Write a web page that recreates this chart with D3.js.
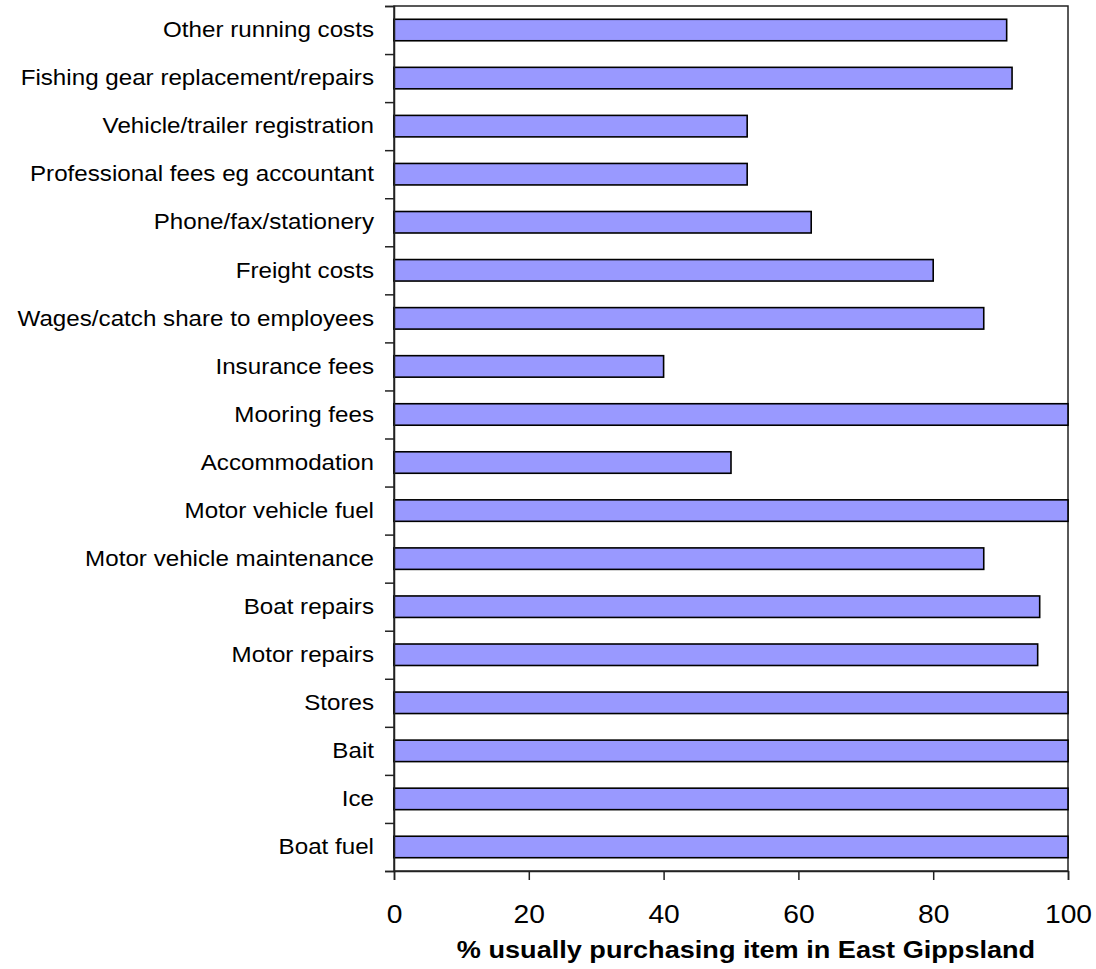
<!DOCTYPE html>
<html>
<head>
<meta charset="utf-8">
<script src="https://cdn.jsdelivr.net/npm/d3@7"></script>
<style>
  html, body { margin: 0; padding: 0; background: #fff; }
  svg { display: block; }
  text { font-family: "Liberation Sans", Arial, sans-serif; fill: #000; }
</style>
</head>
<body>
<svg id="chart" width="1096" height="969"></svg>
<script>
const categories = [
  "Other running costs",
  "Fishing gear replacement/repairs",
  "Vehicle/trailer registration",
  "Professional fees eg accountant",
  "Phone/fax/stationery",
  "Freight costs",
  "Wages/catch share to employees",
  "Insurance fees",
  "Mooring fees",
  "Accommodation",
  "Motor vehicle fuel",
  "Motor vehicle maintenance",
  "Boat repairs",
  "Motor repairs",
  "Stores",
  "Bait",
  "Ice",
  "Boat fuel"
];
const values = [90.9, 91.7, 52.4, 52.4, 61.9, 80, 87.5, 40, 100, 50, 100, 87.5, 95.8, 95.5, 100, 100, 100, 100];
const xTicks = [0, 20, 40, 60, 80, 100];
const xTitle = "% usually purchasing item in East Gippsland";

(function () {
const SXL = 1.075; // horizontal text stretch seen in the reference (labels)
const SX = 1.13;   // ticks and title
const pL = 394, pR = 1068, pT = 6, pB = 871;
const svg = d3.select("#chart");

const x = d3.scaleLinear().domain([0, 100]).range([pL, pR]);
const y = d3.scaleBand().domain(categories).range([pT, pB])
  .paddingInner(0.553).paddingOuter(0.2765);
const yEdge = d3.scaleLinear().domain([0, categories.length]).range([pT, pB]);

// plot frame
svg.append("rect")
  .attr("x", pL).attr("y", pT)
  .attr("width", pR - pL).attr("height", pB - pT)
  .attr("fill", "none").attr("stroke", "#222").attr("stroke-width", 1.5);

// bars
svg.append("g").selectAll("rect")
  .data(categories)
  .join("rect")
  .attr("x", x(0))
  .attr("y", d => y(d))
  .attr("width", (d, i) => x(values[i]) - x(0))
  .attr("height", y.bandwidth())
  .attr("fill", "#9999ff")
  .attr("stroke", "#000")
  .attr("stroke-width", 1.6);

// y boundary ticks
const yTickAxis = svg.append("g")
  .attr("transform", `translate(${pL},0)`)
  .call(d3.axisLeft(yEdge).tickValues(d3.range(0, categories.length + 1)).tickSize(9).tickFormat(""));
yTickAxis.select(".domain").attr("stroke", "#222").attr("stroke-width", 1.5);
yTickAxis.selectAll(".tick line").attr("stroke", "#222").attr("stroke-width", 1.5);

// y labels
const yLab = svg.append("g")
  .attr("transform", `translate(${pL},0)`)
  .call(d3.axisLeft(y).tickSize(0).tickPadding(20));
yLab.select(".domain").remove();
yLab.selectAll(".tick text")
  .style("font-size", "22.5px")
  .attr("x", -20 / SXL)
  .attr("transform", `scale(${SXL},1)`);

// x axis
const xAx = svg.append("g")
  .attr("transform", `translate(0,${pB})`)
  .call(d3.axisBottom(x).tickValues(xTicks).tickSize(9).tickPadding(25).tickFormat(d3.format("d")));
xAx.select(".domain").attr("stroke", "#222").attr("stroke-width", 1.5);
xAx.selectAll(".tick line").attr("stroke", "#222").attr("stroke-width", 1.5);
xAx.selectAll(".tick text")
  .style("font-size", "25px")
  .attr("transform", `scale(${SX},1)`);

// x title
svg.append("text")
  .attr("transform", `translate(746,958) scale(${SX},1)`)
  .attr("text-anchor", "middle")
  .style("font-size", "24px")
  .style("font-weight", "bold")
  .text(xTitle);
})();
</script>
</body>
</html>
